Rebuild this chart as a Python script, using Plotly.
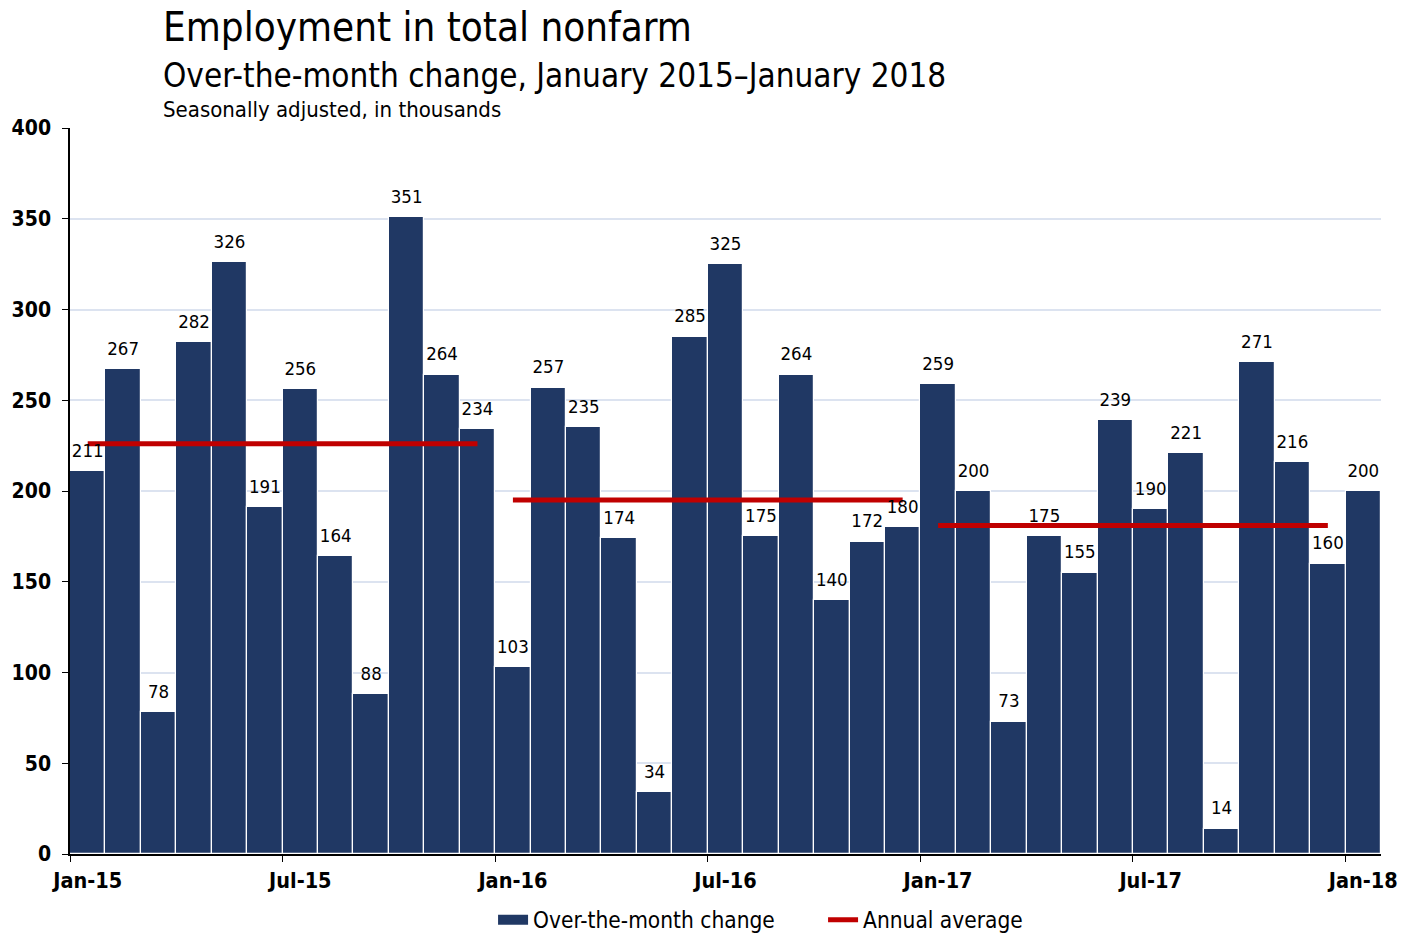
import plotly.graph_objects as go

months = ["Jan","Feb","Mar","Apr","May","Jun","Jul","Aug","Sep","Oct","Nov","Dec"]
categories = [f"{m}-{y}" for y in ["15","16","17"] for m in months] + ["Jan-18"]
changes = [211, 267, 78, 282, 326, 191, 256, 164, 88, 351, 264, 234,
           103, 257, 235, 174, 34, 285, 325, 175, 264, 140, 172, 180,
           259, 200, 73, 175, 155, 239, 190, 221, 14, 271, 216, 160,
           200]
years = ["15", "16", "17"]
annual_avg = [226, 195, 181]

FONT = "DejaVu Sans Condensed"
NAVY = "#203864"
RED = "#C00000"

fig = go.Figure()
fig.add_trace(go.Bar(
    x=categories, y=changes, name="Over-the-month change",
    marker=dict(color=NAVY, line=dict(color="white", width=1.2)),
    showlegend=False, hoverinfo="x+y",
))
# legend proxy for the bars (wide rectangle swatch)
fig.add_trace(go.Scatter(
    x=[None], y=[None], mode="lines", name="Over-the-month change",
    line=dict(color=NAVY, width=11), showlegend=True,
))
for i, (yr, avg) in enumerate(zip(years, annual_avg)):
    fig.add_trace(go.Scatter(
        x=[f"Jan-{yr}", f"Dec-{yr}"], y=[avg, avg], mode="lines",
        line=dict(color=RED, width=5), name="Annual average",
        showlegend=(i == 0), legendgroup="avg",
    ))
# value labels above the bars
fig.add_trace(go.Scatter(
    x=categories, y=changes, mode="markers+text",
    marker=dict(size=14, opacity=0), text=[str(v) for v in changes],
    textposition="top center", textfont=dict(family=FONT, size=18.5, color="black"),
    cliponaxis=False, showlegend=False, hoverinfo="skip",
))

fig.update_layout(
    width=1402, height=933,
    margin=dict(l=70, r=21, t=128, b=79, autoexpand=False),
    plot_bgcolor="white", paper_bgcolor="white",
    bargap=0,
    font=dict(family=FONT, size=18, color="black"),
    showlegend=True,
    legend=dict(orientation="h", x=0.3227, xanchor="left", y=-66/726, yanchor="middle",
                entrywidth=285, font=dict(family=FONT, size=22.5), tracegroupgap=0),
    xaxis=dict(type="category", categoryorder="array", categoryarray=categories,
               range=[-0.5, 36.5], tickmode="linear", tick0=0, dtick=6,
               tickson="boundaries", ticks="outside", ticklen=6, tickcolor="black",
               tickangle=0, automargin=False, ticklabelstandoff=6,
               showline=True, linecolor="black", linewidth=1.5, showgrid=False,
               tickfont=dict(family=FONT, size=21.5, color="black", weight="bold")),
    yaxis=dict(range=[0, 400], dtick=50, ticks="outside", ticklen=6, tickcolor="black",
               automargin=False, ticklabelstandoff=7,
               showline=True, linecolor="black", linewidth=1.5,
               gridcolor="#DCE3F0", gridwidth=1.5, zeroline=False,
               tickfont=dict(family=FONT, size=21, color="black", weight="bold")),
    annotations=[
        dict(text="Employment in total nonfarm", xref="paper", yref="paper",
             x=0.0695, y=1.139, xanchor="left", yanchor="middle", showarrow=False,
             font=dict(family=FONT, size=40)),
        dict(text="Over-the-month change, January 2015\u2013January 2018", xref="paper", yref="paper",
             x=0.0695, y=1.073, xanchor="left", yanchor="middle", showarrow=False,
             font=dict(family=FONT, size=33)),
        dict(text="Seasonally adjusted, in thousands", xref="paper", yref="paper",
             x=0.0695, y=1.026, xanchor="left", yanchor="middle", showarrow=False,
             font=dict(family=FONT, size=22)),
    ],
)
fig.write_html("out.html", config={"displayModeBar": False},
               post_script="document.body.style.margin='0';")
